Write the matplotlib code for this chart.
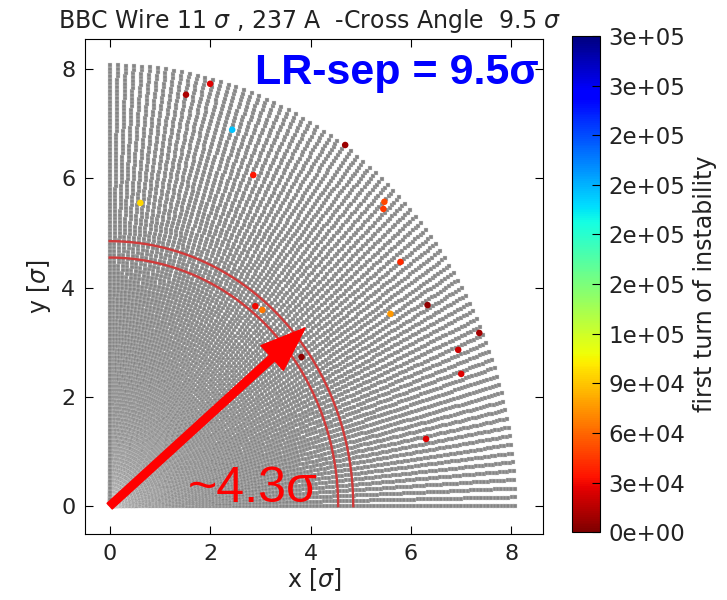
import numpy as np
import matplotlib
matplotlib.use("Agg")
import matplotlib.pyplot as plt

# scan grid parameters (initial amplitudes / angles) ==========================
amp_step = 0.0667
amp_max = 8.13
n_angles = 80

# unstable particles: x, y [sigma] and first turn of instability ============
unst_x = [1.52, 2.00, 2.44, 2.86, 0.61, 4.69, 5.47, 5.45, 5.79, 6.33,
          5.59, 7.36, 6.94, 7.00, 6.30, 2.90, 3.04, 3.82]
unst_y = [7.53, 7.73, 6.89, 6.06, 5.55, 6.61, 5.57, 5.44, 4.47, 3.68,
          3.52, 3.17, 2.86, 2.42, 1.23, 3.66, 3.59, 2.73]
unst_turn = [1.2e4, 2.5e4, 2.05e5, 3.5e4, 9.5e4, 8e3, 5e4, 4.5e4, 4e4, 5e3,
             7.5e4, 1e4, 2e4, 2.5e4, 2.5e4, 3e4, 6.5e4, 5e3]

arc_radii = [4.55, 4.85]
arrow_tip = (3.89, 3.26)
cbar_ticks = [0, 3e4, 6e4, 9e4, 1.2e5, 1.5e5, 1.8e5, 2.1e5, 2.4e5, 2.7e5, 3e5]

# build grid ==================================================================
amps = np.arange(amp_step, amp_max + 1e-9, amp_step)
angs = np.linspace(0, np.pi / 2, n_angles)
A, T = np.meshgrid(amps, angs)
gx = (A * np.cos(T)).ravel()
gy = (A * np.sin(T)).ravel()

fig = plt.figure(figsize=(7.27, 6.0), dpi=100)
ax = fig.add_axes([0.117, 0.11, 0.63, 0.825])

ax.scatter(gx, gy, c='#858585', marker='s', s=11, edgecolors='#d8d8d8',
           linewidths=0.25, zorder=1)

th = np.linspace(0, np.pi / 2, 200)
for r in arc_radii:
    ax.plot(r * np.cos(th), r * np.sin(th), color='#d03a3a', lw=1.7, zorder=2)

sc = ax.scatter(unst_x, unst_y, c=unst_turn, cmap='jet_r', vmin=0, vmax=3e5,
                s=22, linewidths=0, zorder=3)

ax.annotate('', xy=arrow_tip, xytext=(0.0, 0.0),
            arrowprops=dict(facecolor='#ff0000', edgecolor='#ff0000',
                            width=5.5, headwidth=24, headlength=32, shrink=0),
            zorder=4)

ax.text(1.56, 0.07, '~4.3σ', color='#ff0000', fontsize=36,
        family='Liberation Sans', va='baseline', ha='left', zorder=5)
ax.text(0.371, 0.909, 'LR-sep = 9.5σ', color='#0000ff', fontsize=31,
        fontweight='bold', family='Liberation Sans', va='baseline', ha='left',
        transform=ax.transAxes, zorder=5)

ax.set_xlim(-0.49, 8.63)
ax.set_ylim(-0.51, 8.55)
ax.set_xticks([0, 2, 4, 6, 8])
ax.set_yticks([0, 2, 4, 6, 8])
ax.tick_params(direction='in', top=True, right=True, length=6,
               labelsize=16, labelcolor='#222222', pad=7)
ax.set_xlabel(r'x [$\sigma$]', fontsize=17, color='#222222', labelpad=2)
ax.set_ylabel(r'y [$\sigma$]', fontsize=17, color='#222222', labelpad=6)
ax.set_title(r'BBC Wire 11 $\sigma$ , 237 A  -Cross Angle  9.5 $\sigma$',
             fontsize=17, color='#222222', pad=8, x=0.49)

cax = fig.add_axes([0.787, 0.113, 0.038, 0.827])
cb = fig.colorbar(sc, cax=cax, ticks=cbar_ticks, format='%.0e')
cb.ax.tick_params(direction='in', length=6, labelsize=16.5,
                  labelcolor='#222222', pad=6)
cb.set_label('first turn of instability', fontsize=17, color='#222222',
             labelpad=6)

plt.savefig('out.png', dpi=100)
